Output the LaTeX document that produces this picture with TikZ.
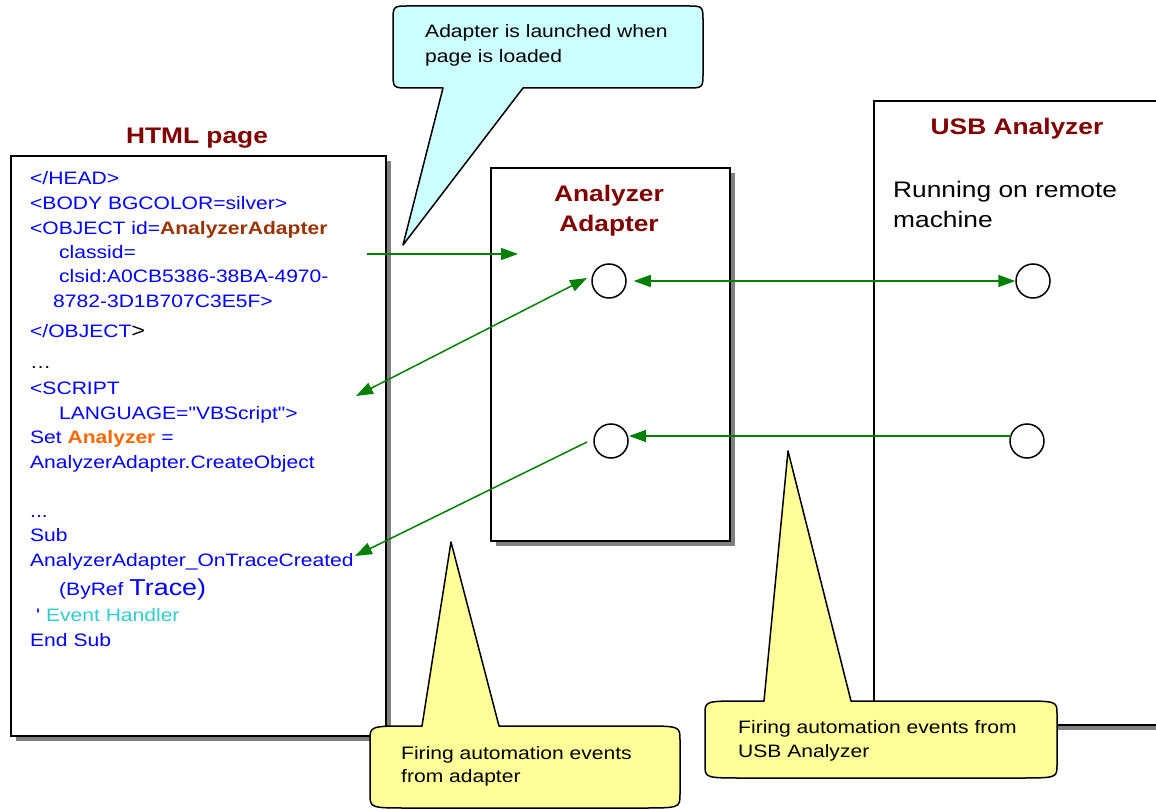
\documentclass[tikz,border=0pt]{standalone}
\usepackage{fontspec}
\setmainfont{Liberation Sans}[FakeStretch=1.17,Ligatures=TeXOff]
\usetikzlibrary{arrows.meta}
\newcommand\fsz[1]{\fontsize{#1}{#1}\selectfont}
\definecolor{codeblue}{HTML}{0000FF}
\definecolor{adbrown}{HTML}{993300}
\definecolor{orng}{HTML}{FF6600}
\definecolor{turq}{HTML}{33CCCC}
\definecolor{titlered}{HTML}{800000}
\definecolor{arrowgreen}{HTML}{008000}
\definecolor{callcyan}{HTML}{CCFFFF}
\definecolor{callyellow}{HTML}{FFFF99}
\definecolor{shade}{HTML}{808080}
\begin{document}
\begin{tikzpicture}[x=1pt,y=-1pt,
  txt/.style={anchor=base west,inner sep=0pt,font=\fsz{18}},
  code/.style={txt,text=codeblue},
  ttl/.style={anchor=base,inner sep=0pt,font=\fsz{22.5}\bfseries,text=titlered},
  boxst/.style={draw=black,line width=2pt,fill=white,anchor=north west,inner sep=0pt},
  shadowst/.style={fill=shade,draw=none},
  port/.style={circle,draw=black,line width=1.5pt,fill=white,minimum size=34pt,inner sep=0pt},
  conn/.style={draw=arrowgreen,line width=1.5pt,-{Triangle[length=17pt,width=12pt]}},
  conn2/.style={draw=arrowgreen,line width=1.5pt,{Triangle[length=17pt,width=12pt]}-{Triangle[length=17pt,width=12pt]}},
  callout/.style={draw=black,line width=1.5pt,line join=round}
]
\useasboundingbox (0,0) rectangle (1156,810);
\clip (0,0) rectangle (1156,810);

% shadows
\fill[shadowst] (16,161) rectangle (391,741);
\fill[shadowst] (496,173) rectangle (735,546);
\fill[shadowst] (879,106) rectangle (1180,730);

% boxes
\node[boxst,minimum width=375pt,minimum height=580pt] (html) at (10,155) {};
\node[boxst,minimum width=239pt,minimum height=373pt] (adapter) at (490,167) {};
\node[boxst,minimum width=300pt,minimum height=624pt] (usb) at (873,100) {};

% titles
\node[ttl] (htmlttl) at (197,144) {HTML page};
\node[ttl] (adttl1) at (609,202) {Analyzer};
\node[ttl] (adttl2) at (609,232) {Adapter};
\node[ttl] (usbttl) at (1017,135) {USB Analyzer};
\node[txt,font=\fsz{22.5}] (usbsub1) at (893,198) {Running on remote};
\node[txt,font=\fsz{22.5}] (usbsub2) at (893,228) {machine};

% HTML code
\node[code] (l1) at (30,185) {</HEAD>};
\node[code] (l2) at (30,210) {<BODY BGCOLOR=silver>};
\node[code] (l3) at (30,235) {<OBJECT id={\bfseries\color{adbrown}AnalyzerAdapter}};
\node[code] (l4) at (59,259) {classid=};
\node[code] (l5) at (59,283) {clsid:A0CB5386-38BA-4970-};
\node[code] (l6) at (53,307) {8782-3D1B707C3E5F>};
\node[code] (l7) at (30,337) {</OBJECT{\color{black}\fsz{20}>}};
\node[txt] (l8) at (30,368) {…};
\node[code] (l9) at (30,394) {<SCRIPT};
\node[code] (l10) at (59,419) {LANGUAGE="VBScript">};
\node[code] (l11) at (30,443) {Set {\bfseries\color{orng}Analyzer} =};
\node[code] (l12) at (30,468) {AnalyzerAdapter.CreateObject};
\node[code] (l13) at (30,517) {...};
\node[code] (l14) at (30,541) {Sub};
\node[code] (l15) at (30,566) {AnalyzerAdapter\_OnTraceCreated};
\node[code] (l16) at (59,595) {(ByRef {\fsz{23}Trace)}};
\node[code] (l17) at (36,621) {'\ {\color{turq}Event Handler}};
\node[code] (l18) at (30,646) {End Sub};

% ports
\node[port] (a1) at (609,281) {};
\node[port] (a2) at (611,441) {};
\node[port] (u1) at (1033,281) {};
\node[port] (u2) at (1027,441) {};

% connector ends
\coordinate (c1) at (367,254);
\coordinate (c2) at (518,254);
\coordinate (c3) at (356,396);
\coordinate (c4) at (587,278);
\coordinate (c5) at (1011,436);
\coordinate (c6) at (629,436);
\coordinate (c7) at (587,442);
\coordinate (c8) at (355,556);

\draw[conn] (c1) -- (c2);
\draw[conn2] (c3) -- (c4);
\draw[conn2] ([xshift=7pt]a1.east) -- (u1.west);
\draw[conn] (c5) -- (c6);
\draw[conn] (c7) -- (c8);

% callouts
\draw[callout,fill=callcyan] (409,6) -- (687,6) .. controls (703,6) .. (703,22) -- (703,72) .. controls (703,88) .. (687,88) -- (523,88) -- (403,245) -- (443,88) -- (409,88) .. controls (393,88) .. (393,72) -- (393,22) .. controls (393,6) .. (409,6) -- cycle;
\node[txt] (t1) at (425,38) {Adapter is launched when};
\node[txt] (t2) at (425,63) {page is loaded};

\draw[callout,fill=callyellow] (370,740) .. controls (370,726) .. (412,726) -- (422,726) -- (451,542) -- (499,726) -- (640,726) .. controls (680,726) .. (680,740) -- (680,794) .. controls (680,808) .. (640,808) -- (410,808) .. controls (370,808) .. (370,794) -- cycle;
\node[txt] (b1) at (401,759) {Firing automation events};
\node[txt] (b2) at (401,782) {from adapter};

\draw[callout,fill=callyellow] (705,714) .. controls (705,701) .. (745,701) -- (764,701) -- (788,451) -- (851,701) -- (1017,701) .. controls (1057,701) .. (1057,714) -- (1057,765) .. controls (1057,778) .. (1017,778) -- (745,778) .. controls (705,778) .. (705,765) -- cycle;
\node[txt] (b3) at (738,733) {Firing automation events from};
\node[txt] (b4) at (738,757) {USB Analyzer};
\end{tikzpicture}
\end{document}
